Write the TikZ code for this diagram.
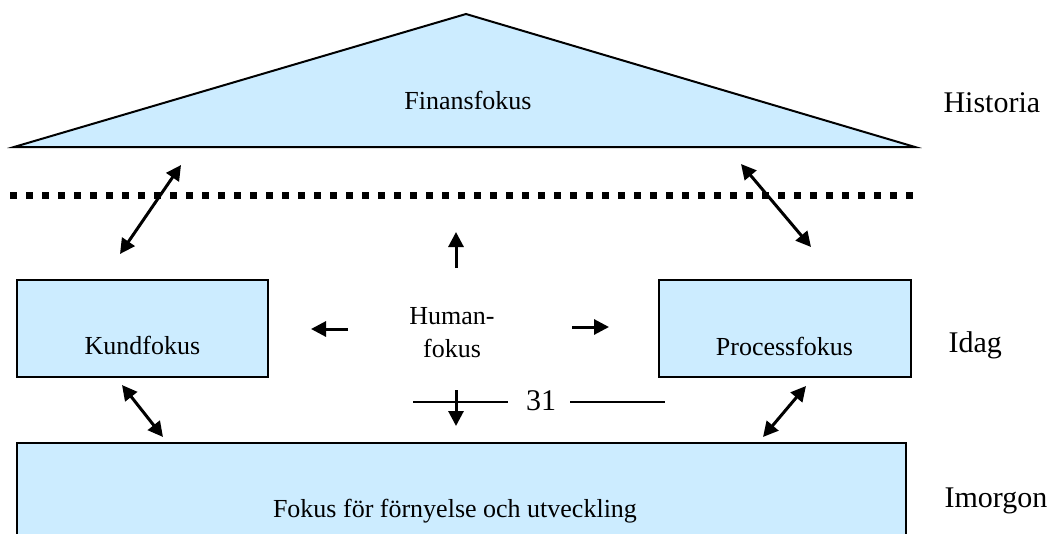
\documentclass[tikz,border=0pt]{standalone}
\usepackage{fontspec}
\setmainfont{Liberation Serif}
\usepackage{xcolor}
\usetikzlibrary{arrows.meta,positioning}
\definecolor{fokusblue}{HTML}{CCECFF}
\tikzstyle{box}=[
draw,
line width=2pt,
fill=fokusblue,
inner sep=0pt
]
\tikzstyle{fokustext}=[
font=\fontsize{26}{33}\selectfont,
align=center
]
\tikzstyle{timetext}=[
font=\fontsize{30}{36}\selectfont,
anchor=west
]
\tikzstyle{arrow}=[
line width=3pt,
-{Triangle[length=15pt,width=15pt]}
]
\tikzstyle{dblarrow}=[
line width=3pt,
{Triangle[length=15pt,width=15pt]}-{Triangle[length=15pt,width=15pt]}
]

\begin{document}
\begin{tikzpicture}[x=1pt,y=-1pt]
\useasboundingbox (0,0) rectangle (1051,533);

% roof
\draw [line width=2pt, fill=fokusblue, line join=miter] (14,147) -- (466,14) -- (915,147) -- cycle;
\node (finans) [fokustext] at (468,100) {Finansfokus};

% dotted border
\coordinate (dotL) at (10,195);
\coordinate (dotR) at (918,195);
\draw [line width=7pt, dash pattern=on 7pt off 9pt] (dotL) -- (dotR);

% middle boxes
\node (kund) [box, minimum width=251pt, minimum height=97pt] at (142.5,328.5) {};
\node (kundtext) [fokustext] at ([yshift=-17pt]kund.center) {Kundfokus};
\node (process) [box, minimum width=252pt, minimum height=97pt] at (784.5,328.5) {};
\node (processtext) [fokustext] at ([yshift=-18pt]process.center) {Processfokus};

% bottom box
\draw [box] (17,443) rectangle (906,560);
\node (fornyelse) [fokustext] at (455,511) {Fokus för förnyelse och utveckling};

% centre
\node (human) [fokustext] at (452,333) {Human-\\fokus};
\node (num) [fokustext, font=\fontsize{30}{36}\selectfont] at (541,401) {31};
\coordinate (lineL) at (413,402);
\coordinate (lineLend) at (508,402);
\coordinate (lineRend) at (570,402);
\coordinate (lineR) at (665,402);
\draw [line width=2pt] (lineL) -- (lineLend);
\draw [line width=2pt] (lineRend) -- (lineR);

% arrows out of the centre
\coordinate (upA) at (456,268);
\coordinate (upB) at (456,232);
\coordinate (leftA) at (348,329);
\coordinate (leftB) at (311,329);
\coordinate (rightA) at (572,327);
\coordinate (rightB) at (609,327);
\coordinate (downA) at (456,390);
\coordinate (downB) at (456,426);
\draw [arrow] (upA) -- (upB);
\draw [arrow] (leftA) -- (leftB);
\draw [arrow] (rightA) -- (rightB);
\draw [arrow] (downA) -- (downB);

% double arrows
\coordinate (ulA) at (120,254);
\coordinate (ulB) at (181,165);
\coordinate (urA) at (741,164);
\coordinate (urB) at (811,247);
\coordinate (llA) at (122,385);
\coordinate (llB) at (163,437);
\coordinate (lrA) at (806,386);
\coordinate (lrB) at (763,437);
\draw [dblarrow] (ulA) -- (ulB);
\draw [dblarrow] (urA) -- (urB);
\draw [dblarrow] (llA) -- (llB);
\draw [dblarrow] (lrA) -- (lrB);

% time scale
\node (historia) [timetext] at (940,103) {Historia};
\node (idag) [timetext] at (945,345) {Idag};
\node (imorgon) [timetext] at (941,501) {Imorgon};

\end{tikzpicture}
\end{document}
